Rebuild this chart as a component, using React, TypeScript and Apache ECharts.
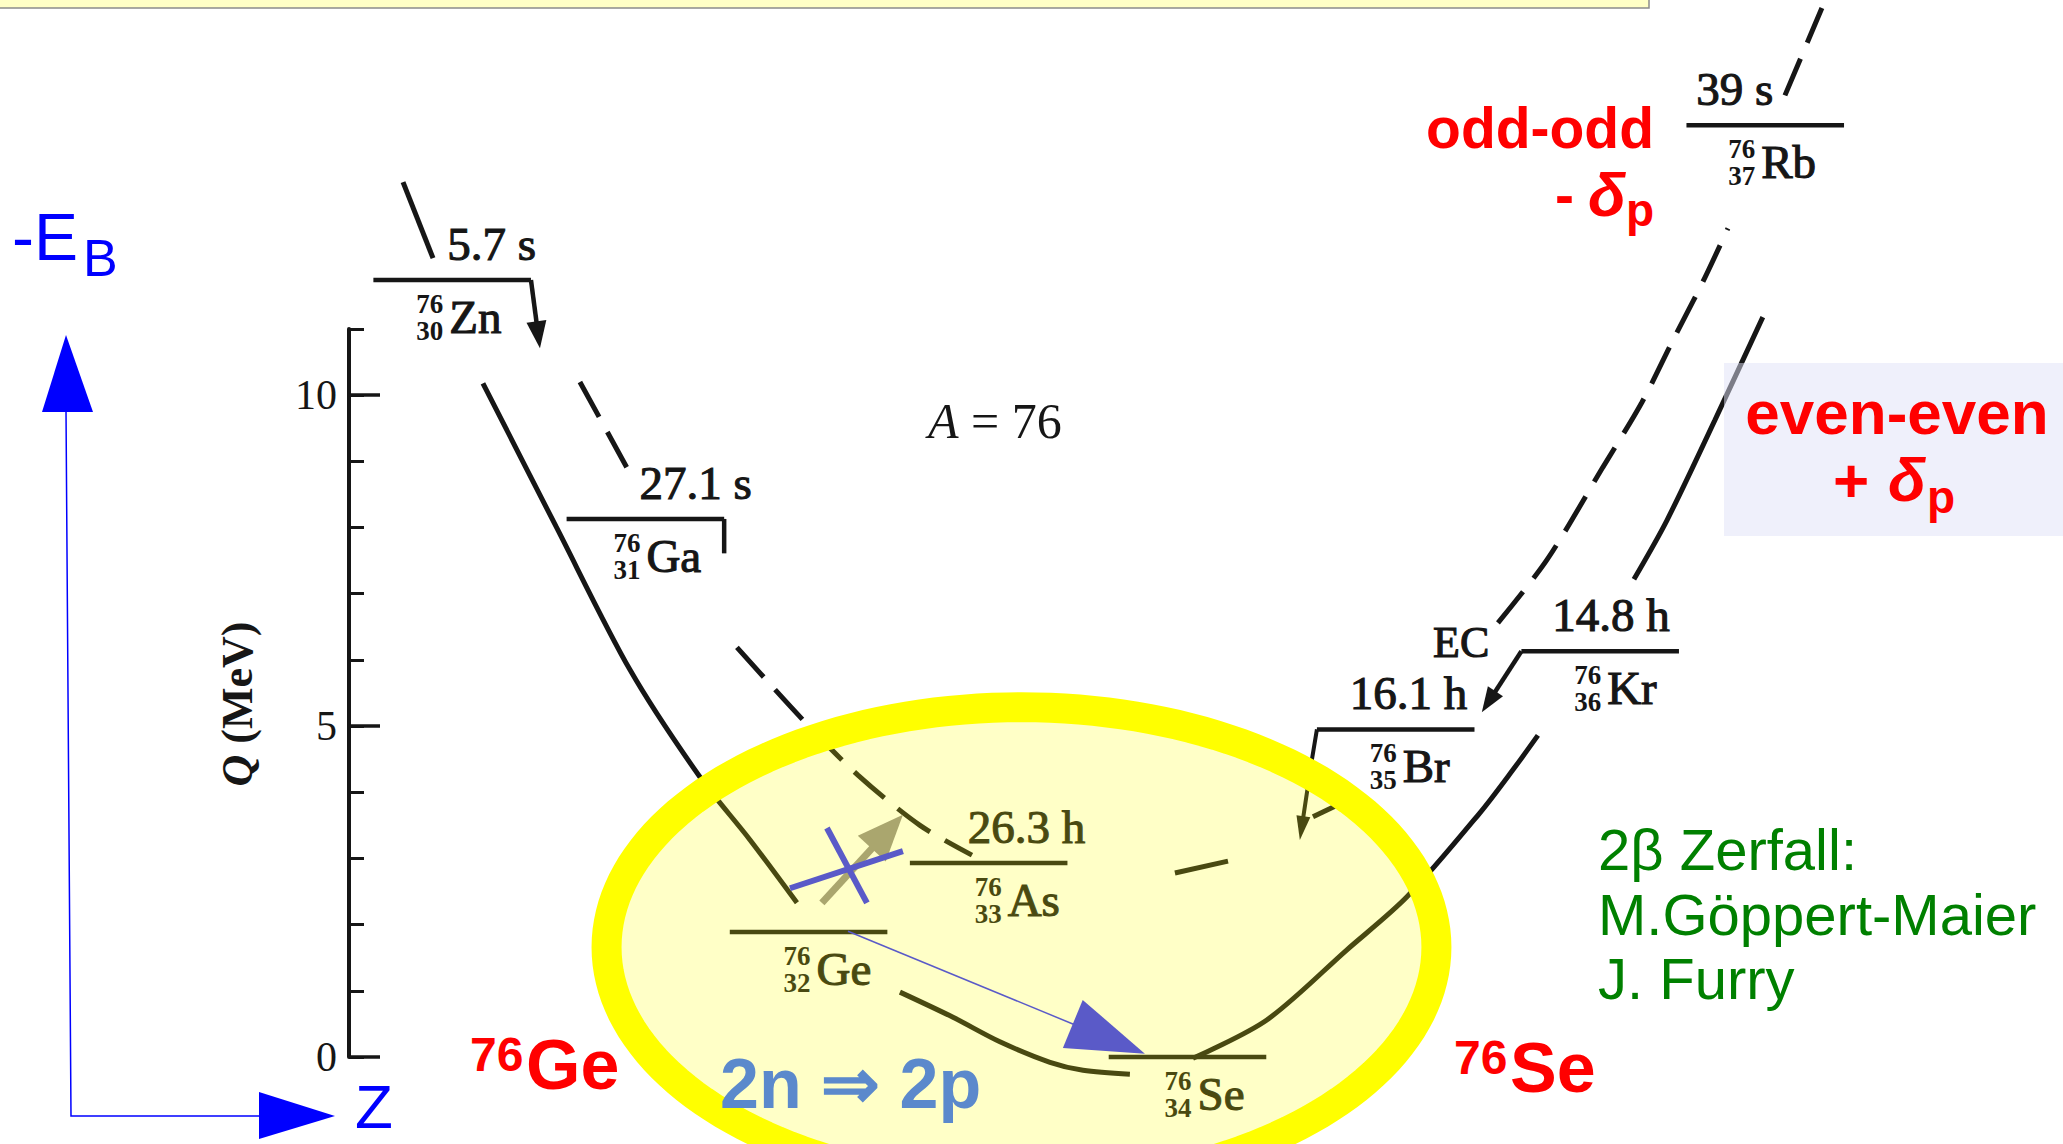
import React, { useEffect, useRef } from "react";
import * as echarts from "echarts";

// ---- A = 76 isobars: ground-state Q-values (MeV, relative to 76Se) ----
const nuclides = ["Zn", "Ga", "Ge", "As", "Se", "Br", "Kr", "Rb"];
const protonNumbers = [30, 31, 32, 33, 34, 35, 36, 37];
const massNumber = 76;
// position of each level along the Z axis as laid out in the diagram
const levelZ = [30.0, 31.03, 31.9, 32.86, 33.92, 35.03, 36.12, 37.0];
const qValues = [11.74, 8.13, 1.89, 2.93, 0, 4.95, 6.13, 14.08];
const halfLives = ["5.7 s", "27.1 s", "", "26.3 h", "", "16.1 h", "14.8 h", "39 s"];
const qTickValues = [0, 5, 10];

// ---- even-even mass parabola (solid), [Z, Q] ----
const evenFeed = [[29.738, 13.22], [29.898, 12.07]];
const evenLeft = [[30.164, 10.18], [30.553, 8.02], [30.948, 5.85], [31.321, 4.23], [31.588, 3.28], [31.838, 2.33]];
const evenBottom = [[32.387, 0.98], [32.67, 0.6], [32.92, 0.23], [33.187, -0.08], [33.363, -0.2], [33.613, -0.26]];
const evenRight = [[33.949, -0.02], [34.343, 0.56], [34.77, 1.62], [35.09, 2.42], [35.479, 3.69], [35.655, 4.34], [35.788, 4.86]];
const evenTop = [[36.3, 7.22], [36.476, 8.11], [36.731, 9.62], [36.987, 11.18]];

// ---- odd-odd mass parabola (dashed), [Z, Q] ----
const oddLeft = [[30.681, 10.2], [30.948, 8.82]];
const oddMid = [[31.518, 6.19], [31.881, 5.06], [32.163, 4.26], [32.494, 3.5], [32.771, 3.05]];
const oddBottomA = [[33.853, 2.78], [34.136, 2.96]];
const oddBottomB = [[34.589, 3.63], [34.706, 3.79]];
const oddRight = [[35.575, 6.56], [35.836, 7.51], [36.134, 8.91], [36.342, 9.89], [36.508, 10.83], [36.667, 11.71], [36.801, 12.52]];
const oddTop = [[37.105, 14.53], [37.302, 15.85]];

// ---- decay arrows, [Z, Q] ----
const zincDecay = [[30.42, 11.74], [30.468, 10.71]];
const galliumHook = [[31.45, 8.13], [31.45, 7.61]];
const bromineDecay = [[34.61, 4.95], [34.583, 4.49], [34.519, 3.28]];
const kryptonDecay = [[35.7, 6.13], [35.489, 5.21]];

// ---- double-beta annotations, [Z, Q] ----
const singleBeta = [[31.971, 2.33], [32.403, 3.66]];
const crossA = [[31.801, 2.55], [32.403, 3.11]];
const crossB = [[31.998, 3.46], [32.211, 2.33]];
const doubleBeta = [[32.11, 1.9], [33.693, 0.05]];
const highlightCenter = [33.035, 1.66];
const highlightRadius = [2.212, 3.625];

// ---- layout / style ----
const HALF_WIDTH = 0.42;
const symbolDx = [-3, 1, 8, 19, 10, 7, 7, -4];
const halfLifeDx = [-5, -6, 0, -21, 0, -46, -48, -69];
const SERIF = "'Liberation Serif', 'Times New Roman', serif";
const SANS = "'Liberation Sans', Arial, sans-serif";
const INK = "#161616";
const KHAKI = "#aaa66e";
const SLATE = "#5a5ac8";
const RED = "#ff0000";
const GREEN = "#008000";
const BLUE = "#0000ff";

type Pt = number[];

function label(x: number, y: number, text: string, o: any = {}) {
  return {
    type: "text",
    x,
    y,
    style: {
      text,
      fill: o.fill || INK,
      fontSize: o.fontSize || 46,
      fontFamily: o.fontFamily || SERIF,
      fontWeight: o.fontWeight || "normal",
      fontStyle: o.fontStyle || "normal",
      align: o.align || "left",
      verticalAlign: "middle",
      lineHeight: o.lineHeight,
      stroke: o.stroke,
      lineWidth: o.lineWidth || 0,
      rich: o.rich,
    },
  };
}

function arrowShapes(pts: Pt[], color: string, width: number, headLen: number, headW: number) {
  const tip = pts[pts.length - 1];
  const prev = pts[pts.length - 2];
  const dx = tip[0] - prev[0];
  const dy = tip[1] - prev[1];
  const len = Math.hypot(dx, dy) || 1;
  const ux = dx / len;
  const uy = dy / len;
  const bx = tip[0] - ux * headLen;
  const by = tip[1] - uy * headLen;
  const nx = -uy;
  const ny = ux;
  const shaft = pts.slice(0, -1).concat([[bx + ux * 2, by + uy * 2]]);
  return [
    { type: "polyline", shape: { points: shaft }, style: { stroke: color, lineWidth: width, fill: "none" } },
    {
      type: "polygon",
      shape: {
        points: [
          [tip[0], tip[1]],
          [bx + (nx * headW) / 2, by + (ny * headW) / 2],
          [bx - (nx * headW) / 2, by - (ny * headW) / 2],
        ],
      },
      style: { fill: color },
    },
  ];
}

function curve(data: number[][], dashed: boolean) {
  return {
    type: "line",
    data,
    smooth: 0.3,
    symbol: "none",
    clip: false,
    silent: true,
    z: 2,
    lineStyle: { color: INK, width: 5, type: dashed ? [40, 17] : "solid" },
  };
}

function buildOption(): any {
  const levelData = levelZ.map((z, i) => [z, qValues[i], i]);
  const scanText = { stroke: INK, lineWidth: 1.1 };

  const series: any[] = [
    curve(evenFeed, false),
    curve(evenLeft, false),
    curve(evenBottom, false),
    curve(evenRight, false),
    curve(evenTop, false),
    curve(oddLeft, true),
    curve(oddMid, true),
    curve(oddBottomA, false),
    curve(oddBottomB, false),
    curve(oddRight, true),
    curve(oddTop, true),
    {
      type: "custom",
      name: "levels",
      z: 2,
      silent: true,
      dimensions: ["Z", "Q", "index"],
      encode: { x: 0, y: 1 },
      data: levelData,
      renderItem: (_p: any, api: any) => {
        const i = api.value(2) as number;
        const z = api.value(0) as number;
        const q = api.value(1) as number;
        const c = api.coord([z, q]);
        const l = api.coord([z - HALF_WIDTH, q]);
        const r = api.coord([z + HALF_WIDTH, q]);
        const sx = c[0] + symbolDx[i];
        const children: any[] = [
          { type: "line", shape: { x1: l[0], y1: c[1], x2: r[0], y2: c[1] }, style: { stroke: INK, lineWidth: 4.5 } },
          label(sx, c[1] + 37, nuclides[i], { fontSize: 47, ...scanText }),
          // mass number over proton number
          label(sx - 6, c[1] + 37.5, `${massNumber}\n${protonNumbers[i]}`, {
            fontSize: 27,
            lineHeight: 27,
            fontWeight: "bold",
            align: "right",
          }),
        ];
        if (halfLives[i]) {
          children.push(label(c[0] + halfLifeDx[i], c[1] - 36, halfLives[i], { fontSize: 47, ...scanText }));
        }
        return { type: "group", children };
      },
    },
    {
      type: "custom",
      name: "decays",
      z: 2,
      silent: true,
      data: [[33, 5]],
      renderItem: (_p: any, api: any) => {
        const px = (pts: number[][]) => pts.map((p) => api.coord(p));
        const hook = px(galliumHook);
        return {
          type: "group",
          children: [
            ...arrowShapes(px(zincDecay), INK, 4.5, 27, 20),
            ...arrowShapes(px(kryptonDecay), INK, 4.5, 25, 18),
            ...arrowShapes(px(bromineDecay), INK, 4, 24, 14),
            { type: "polyline", shape: { points: hook }, style: { stroke: INK, lineWidth: 4.5, fill: "none" } },
          ],
        };
      },
    },
    {
      type: "custom",
      name: "highlight",
      z: 3,
      silent: true,
      data: [highlightCenter],
      renderItem: (_p: any, api: any) => {
        const c = api.coord([api.value(0), api.value(1)]);
        const s = api.size(highlightRadius);
        const pts: number[][] = [];
        for (let k = 0; k < 180; k++) {
          const t = (k / 180) * Math.PI * 2;
          pts.push([c[0] + s[0] * Math.cos(t), c[1] + s[1] * Math.sin(t)]);
        }
        return {
          type: "group",
          children: [
            { type: "polygon", shape: { points: pts }, style: { fill: "rgba(255,255,0,0.22)" } },
            { type: "polygon", shape: { points: pts }, style: { fill: "none", stroke: "#ffff00", lineWidth: 30 } },
          ],
        };
      },
    },
    {
      type: "custom",
      name: "doubleBeta",
      z: 4,
      silent: true,
      data: [[33, 1]],
      renderItem: (_p: any, api: any) => {
        const px = (pts: number[][]) => pts.map((p) => api.coord(p));
        const a = px(crossA);
        const b = px(crossB);
        return {
          type: "group",
          children: [
            ...arrowShapes(px(singleBeta), KHAKI, 7, 46, 38),
            { type: "line", shape: { x1: a[0][0], y1: a[0][1], x2: a[1][0], y2: a[1][1] }, style: { stroke: SLATE, lineWidth: 6 } },
            { type: "line", shape: { x1: b[0][0], y1: b[0][1], x2: b[1][0], y2: b[1][1] }, style: { stroke: SLATE, lineWidth: 6 } },
            ...arrowShapes(px(doubleBeta), SLATE, 1.5, 78, 52),
          ],
        };
      },
    },
  ];

  const top = (el: any) => ({ ...el, z: 20 });
  const graphic: any[] = [
    top({ type: "rect", shape: { x: -2, y: -2, width: 1651, height: 10 }, style: { fill: "#ffffc6", stroke: "#8c8c8c", lineWidth: 1.5 } }),
    // -E_B / Z frame
    top({ type: "polyline", shape: { points: [[66, 410], [71, 1116], [262, 1116]] }, style: { stroke: BLUE, lineWidth: 1.5, fill: "none" } }),
    top({ type: "polygon", shape: { points: [[66, 335], [42, 412], [93, 412]] }, style: { fill: BLUE } }),
    top({ type: "polygon", shape: { points: [[335, 1116], [259, 1092], [259, 1139]] }, style: { fill: BLUE } }),
    top(label(12, 237, "-E", { fontSize: 66, fontFamily: SANS, fill: BLUE })),
    top(label(83, 258, "B", { fontSize: 52, fontFamily: SANS, fill: BLUE })),
    top(label(355, 1106, "Z", { fontSize: 62, fontFamily: SANS, fill: BLUE })),
    // axis title and isobar tag
    top({
      ...label(237, 704, "{q|Q} (MeV)", {
        fontSize: 44,
        fontWeight: "bold",
        align: "center",
        rich: { q: { fontStyle: "italic", fontSize: 44, fontWeight: "bold", fontFamily: SERIF, fill: INK } },
      }),
      rotation: Math.PI / 2,
    }),
    top(label(928, 421, "{a|A} = 76", { fontSize: 50, rich: { a: { fontStyle: "italic", fontSize: 50, fontFamily: SERIF, fill: INK } } })),
    top(label(1433, 642, "EC", { fontSize: 44, ...scanText })),
    // pairing labels
    top(label(1654, 128, "odd-odd", { fontSize: 57, fontFamily: SANS, fontWeight: "bold", fill: RED, align: "right" })),
    top(label(1555, 195, "-", { fontSize: 57, fontFamily: SANS, fontWeight: "bold", fill: RED })),
    top(label(1588, 194, "δ", { fontSize: 62, fontFamily: SANS, fontWeight: "bold", fontStyle: "italic", fill: RED })),
    top(label(1626, 210, "p", { fontSize: 46, fontFamily: SANS, fontWeight: "bold", fill: RED })),
    top({ type: "rect", shape: { x: 1724, y: 363, width: 345, height: 173 }, style: { fill: "rgba(223,225,247,0.5)" } }),
    top(label(1897, 412, "even-even", { fontSize: 62, fontFamily: SANS, fontWeight: "bold", fill: RED, align: "center" })),
    top(label(1833, 480, "+", { fontSize: 62, fontFamily: SANS, fontWeight: "bold", fill: RED })),
    top(label(1888, 479, "δ", { fontSize: 62, fontFamily: SANS, fontWeight: "bold", fontStyle: "italic", fill: RED })),
    top(label(1927, 497, "p", { fontSize: 46, fontFamily: SANS, fontWeight: "bold", fill: RED })),
    // nuclei of the 2β pair
    top(label(470, 1054, "76", { fontSize: 48, fontFamily: SANS, fontWeight: "bold", fill: RED })),
    top(label(526, 1065, "Ge", { fontSize: 70, fontFamily: SANS, fontWeight: "bold", fill: RED })),
    top(label(1454, 1057, "76", { fontSize: 48, fontFamily: SANS, fontWeight: "bold", fill: RED })),
    top(label(1510, 1068, "Se", { fontSize: 70, fontFamily: SANS, fontWeight: "bold", fill: RED })),
    top(label(720, 1084, "2n ⇒ 2p", { fontSize: 70, fontFamily: SANS, fontWeight: "bold", fill: "#5b89cc" })),
    // history note
    top(label(1598, 849, "2β Zerfall:", { fontSize: 58, fontFamily: SANS, fill: GREEN })),
    top(label(1598, 914, "M.Göppert-Maier", { fontSize: 58, fontFamily: SANS, fill: GREEN })),
    top(label(1598, 978, "J. Furry", { fontSize: 58, fontFamily: SANS, fill: GREEN })),
  ];

  return {
    animation: false,
    backgroundColor: "#ffffff",
    grid: { left: 349, right: 7, top: 329, bottom: 87, containLabel: false },
    xAxis: { type: "value", min: 29.45, max: 38.55, show: false },
    yAxis: [
      {
        type: "value",
        min: 0,
        max: 11,
        interval: 1,
        position: "left",
        axisLine: { show: true, onZero: false, lineStyle: { color: INK, width: 4 } },
        axisTick: { show: true, inside: true, length: 15, lineStyle: { color: INK, width: 3 } },
        axisLabel: {
          show: true,
          margin: 12,
          color: INK,
          fontFamily: SERIF,
          fontSize: 42,
          formatter: (v: number) => (qTickValues.includes(v) ? String(v) : ""),
        },
        splitLine: { show: false },
      },
      {
        type: "value",
        min: 0,
        max: 11,
        position: "left",
        axisLine: { show: false },
        axisTick: { show: true, inside: true, length: 31, customValues: qTickValues, lineStyle: { color: INK, width: 3.5 } },
        axisLabel: { show: false },
        splitLine: { show: false },
      },
    ],
    series,
    graphic,
  };
}

export default function App() {
  const ref = useRef<HTMLDivElement>(null);
  useEffect(() => {
    if (!ref.current) return;
    const chart = echarts.init(ref.current, null, { renderer: "svg" });
    chart.setOption(buildOption());
    return () => chart.dispose();
  }, []);
  return (
    <div
      ref={ref}
      style={{ position: "fixed", left: 0, top: 0, width: 2063, height: 1144, background: "#ffffff" }}
    />
  );
}
